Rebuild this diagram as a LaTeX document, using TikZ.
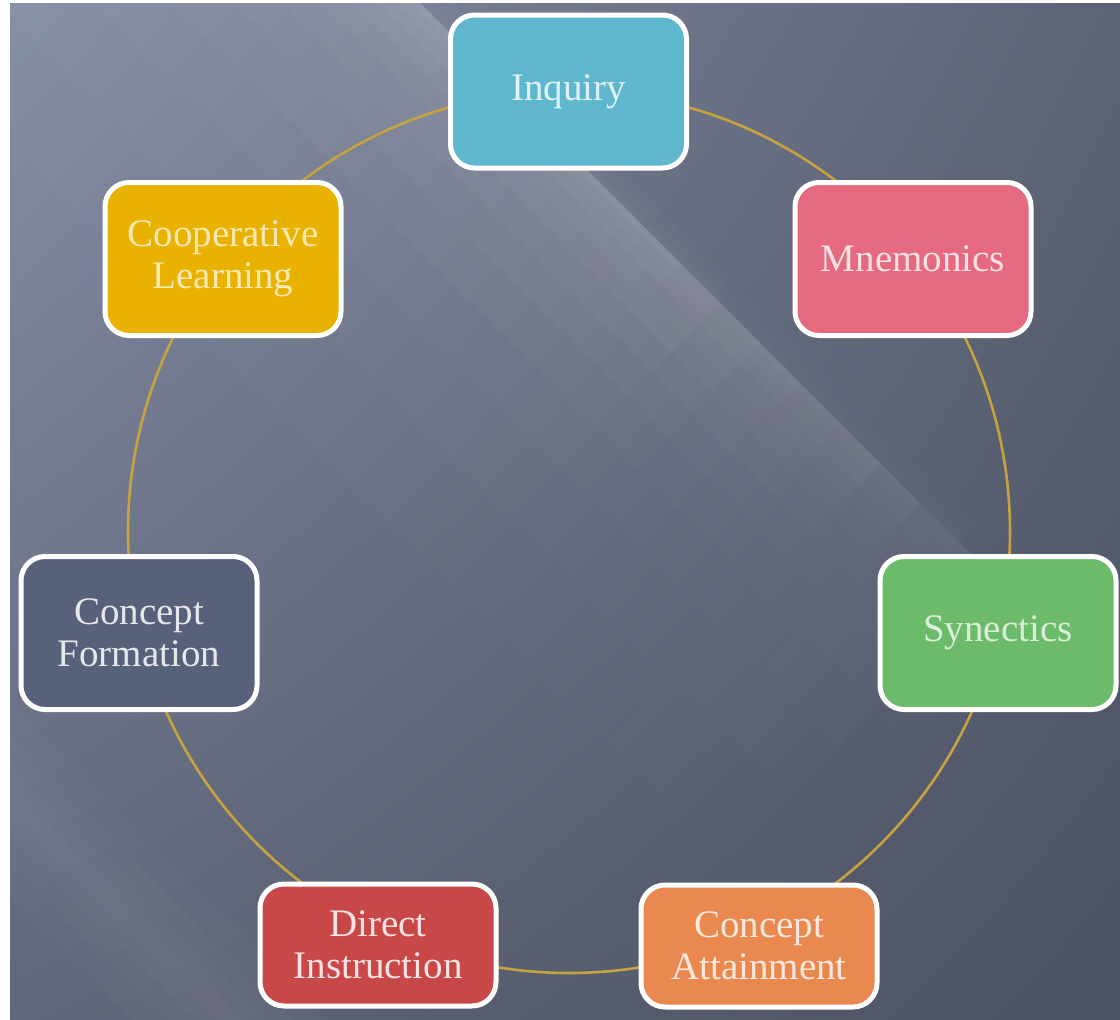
\documentclass[tikz,border=0pt]{standalone}
\usepackage{fontspec}
\setmainfont{Liberation Serif}
\usetikzlibrary{shadings,calc}
\pgfdeclarelayer{bglayer}
\pgfdeclarelayer{ringlayer}
\pgfsetlayers{bglayer,ringlayer,main}
\definecolor{inqc}{RGB}{95,183,206}
\definecolor{mnec}{RGB}{230,106,127}
\definecolor{sync}{RGB}{107,187,106}
\definecolor{cac}{RGB}{233,137,80}
\definecolor{dic}{RGB}{200,72,72}
\definecolor{cfc}{RGB}{88,97,122}
\definecolor{clc}{RGB}{233,177,0}
\definecolor{ringc}{RGB}{198,163,64}
\definecolor{bgUL}{RGB}{134,142,166}
\definecolor{bgUR}{RGB}{92,99,117}
\definecolor{bgLL}{RGB}{96,103,122}
\definecolor{bgLR}{RGB}{76,82,98}
\tikzset{
  box/.style={draw=white, line width=5pt, rounded corners=24pt,
    minimum width=236pt, minimum height=153pt, align=center, inner sep=0pt,
    font=\fontsize{39}{42}\selectfont},
  ring/.style={draw=ringc, line width=2.6pt},
}
\begin{document}
\begin{tikzpicture}[x=1pt,y=-1pt]
\useasboundingbox (0,0) rectangle (1120,1020);
\begin{pgfonlayer}{bglayer}
  \fill[white] (0,0) rectangle (1120,1020);
  \begin{scope}
    \clip (10,3) rectangle (1120,1020);
    \shade[upper left=bgUL, upper right=bgUR, lower left=bgLL, lower right=bgLR]
      (10,3) rectangle (1120,1020);
    % main diagonal light streak along the line y = x - 417, fading along its length
    \foreach \i in {0,...,12} {
      \pgfmathsetmacro\xa{ifthenelse(\i==0,-700,640+40*\i)}
      \pgfmathsetmacro\xb{ifthenelse(\i==12,1600,680+40*\i)}
      \pgfmathsetmacro\f{max(1-0.08*\i,0.05)}
      \foreach \d/\o in {6/0.03,16/0.03,30/0.03,48/0.03,70/0.028,98/0.026,132/0.024,175/0.022,230/0.02,300/0.018,390/0.016} {
        \pgfmathsetmacro\oo{\o*\f}
        \fill[white, fill opacity=\oo]
          (\xa,\xa-417) -- (\xb,\xb-417) -- ($(\xb,\xb-417)+(\d*-0.707,\d*0.707)$) -- ($(\xa,\xa-417)+(\d*-0.707,\d*0.707)$) -- cycle;
      }
      \foreach \d in {6,14,24} {
        \pgfmathsetmacro\oo{0.015*\f}
        \fill[white, fill opacity=\oo]
          (\xa,\xa-417) -- (\xb,\xb-417) -- ($(\xb,\xb-417)+(\d*0.707,\d*-0.707)$) -- ($(\xa,\xa-417)+(\d*0.707,\d*-0.707)$) -- cycle;
      }
    }
    % lower-left soft band
    \foreach \d in {10,25,45,70}
      \fill[white, fill opacity=0.02]
        ($(-200,590)+(\d*-0.707,\d*0.707)$) -- ($(400,1190)+(\d*-0.707,\d*0.707)$) -- ($(400,1190)+(\d*0.707,\d*-0.707)$) -- ($(-200,590)+(\d*0.707,\d*-0.707)$) -- cycle;
  \end{scope}
\end{pgfonlayer}

\coordinate (ctr) at (569,532);

\node[box, fill=inqc, text=inqc!20!white] (inq) at (568.5,91.5) {Inquiry};
\node[box, fill=mnec, text=mnec!20!white] (mne) at (913,259) {Mnemonics};
\node[box, fill=sync, text=sync!25!white] (syn) at (998,633) {Synectics};
\node[box, fill=cac, text=cac!20!white, minimum height=122pt] (ca) at (759,946) {Concept\\Attainment};
\node[box, fill=dic, text=dic!15!white, minimum height=122pt] (di) at (378,945) {Direct\\Instruction};
\node[box, fill=cfc, text=cfc!15!white] (cf) at (139,633) {Concept\\Formation};
\node[box, fill=clc, text=clc!30!white] (cl) at (223,259) {Cooperative\\Learning};

\begin{pgfonlayer}{ringlayer}
  \draw[ring] (ctr) circle[radius=441pt];
\end{pgfonlayer}
\end{tikzpicture}
\end{document}
